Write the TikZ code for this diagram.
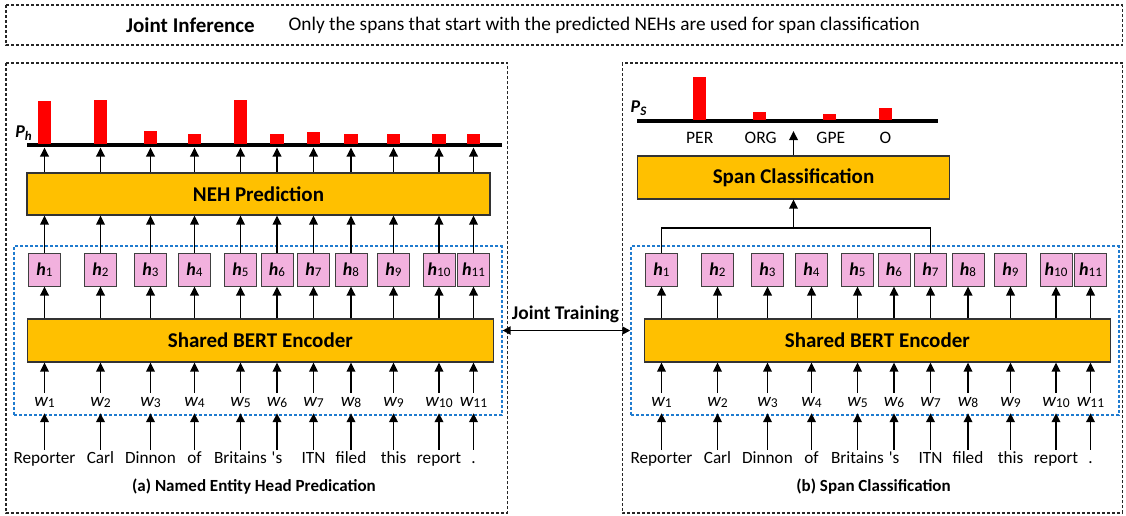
\documentclass[tikz,border=0pt]{standalone}
\usepackage{fontspec}
\setmainfont{Carlito}[Ligatures=TeXOff]
\usetikzlibrary{arrows.meta,calc}
\definecolor{orangeC}{HTML}{FFC000}
\definecolor{pinkC}{HTML}{F2B1DE}
\definecolor{blueC}{HTML}{1F7BCF}
\definecolor{barC}{HTML}{FF0000}
\newcommand{\fsz}[1]{\fontsize{#1}{#1}\selectfont}
\newcommand{\hlab}[1]{{\fsz{18}\bfseries\itshape h}\raisebox{-0.25ex}{\fsz{13}#1}}
\newcommand{\wlab}[1]{{\fsz{19}\itshape w}\raisebox{-0.4ex}{\fsz{13.5}#1}}
\tikzset{
  panelbox/.style={draw=black!85, line width=1.3pt, dash pattern=on 3pt off 2pt},
  bluebox/.style={draw=blueC, line width=1.6pt, dash pattern=on 3pt off 2pt, inner sep=0pt},
  orangebox/.style={draw=black!80, fill=orangeC, line width=1.2pt, inner sep=0pt, font=\fsz{21}\bfseries},
  hbox/.style={draw=black!75, fill=pinkC, line width=1pt, minimum width=32pt, minimum height=33pt, inner sep=0pt},
  wnode/.style={inner sep=0pt, text height=10pt, text depth=4pt, inner ysep=3pt},
  wordnode/.style={inner sep=0pt, text height=11.5pt, text depth=3.5pt, inner ysep=1.5pt, font=\fsz{17.2}},
  arr/.style={-{Triangle[length=9pt,width=8.5pt]}, line width=1.8pt},
  darr/.style={{Triangle[length=8pt,width=8pt]}-{Triangle[length=8pt,width=8pt]}, line width=1.8pt},
  axisline/.style={line width=3.2pt},
  caption/.style={font=\fsz{17}\bfseries, inner sep=0pt},
  clslabel/.style={font=\fsz{17.5}, inner sep=0pt},
}
\begin{document}
\begin{tikzpicture}[x=1pt,y=-1pt]
\useasboundingbox (0,0) rectangle (1126,515);
% top box
\draw[panelbox] (6,5) rectangle (1122.5,45);
\node[font=\fsz{21}\bfseries, inner sep=0pt] (ji) at (190.5,25) {Joint Inference};
\node[font=\fsz{19.3}, inner sep=0pt, anchor=west] (jitext) at (288.5,25) {Only the spans that start with the predicted NEHs are used for span classification};
% panels
\draw[panelbox] (6,63) rectangle (507.3,513);
\draw[panelbox] (622.3,63) rectangle (1122.5,513);
% panel contents
\foreach \p/\o in {L/0,R/617} {
  \node[bluebox, minimum width=487.7pt, minimum height=169pt] (blue\p) at (257.9+\o,330.5) {};
  \node[orangebox, minimum width=466pt, minimum height=43pt] (bert\p) at (260.3+\o,340.5) {Shared BERT Encoder};
  \foreach \i/\x/\word in {1/44.5/Reporter,2/100.5/Carl,3/150.5/Dinnon,4/194.5/of,5/240.5/Britains,6/277/'s,7/313.5/ITN,8/351/filed,9/393.5/this,10/439/report,11/473.5/.} {
    \node[hbox] (h\p\i) at (\x+\o,269.5) {\hlab{\i}};
    \node[wnode] (w\p\i) at (\x+\o,403) {\wlab{\i}};
    \node[wordnode] (word\p\i) at (\x+\o,459) {\word};
    \draw[arr] (bert\p.north -| h\p\i.south) -- (h\p\i.south);
    \draw[arr] (w\p\i.north) -- (w\p\i.north |- bert\p.south);
    \draw[arr] (word\p\i.north) -- (w\p\i.south);
  }
}
% left: NEH prediction
\node[orangebox, minimum width=463pt, minimum height=42pt] (neh) at (258.5,194) {NEH Prediction};
\coordinate (phL) at (0,147.5);
\draw[axisline] (27,145) -- (502,145);
\node[inner sep=0pt] (Ph) at (23.5,133) {\fsz{18}\bfseries\itshape P\raisebox{-0.3ex}{\fsz{13}h}};
\foreach \i/\t in {1/101,2/100,3/131,4/134,5/100,6/134,7/132,8/134,9/134,10/134,11/134} {
  \draw[arr] (hL\i.north) -- (hL\i.north |- neh.south);
  \draw[arr] (neh.north -| hL\i.north) -- (hL\i.north |- phL);
  \fill[barC] ($(hL\i.north |- 0,143.5) + (-6.7,0)$) rectangle ($(hL\i.north |- 0,\t) + (6.7,0)$);
}
% right: span classification
\node[orangebox, minimum width=312pt, minimum height=43pt] (span) at (793.5,177.5) {Span Classification};
\draw[line width=1.8pt] (hR1.north) -- (hR1.north |- 0,228) -| (hR7.north);
\draw[arr] (span.south |- 0,228) -- (span.south);
\draw[axisline] (637,121) -- (938,121);
\coordinate (psT) at (0,131);
\draw[arr] (span.north) -- (span.north |- psT);
\node[inner sep=0pt] (Ps) at (638.5,108) {\fsz{18}\bfseries\itshape P\raisebox{-0.3ex}{\fsz{13}S}};
\foreach \n/\x/\t/\lx/\lab in {per/699.3/77.3/699.7/PER,org/759.2/111.7/760.7/ORG,gpe/829.3/114.3/830.8/GPE,o/885.3/107.7/885.5/O} {
  \fill[barC] (\x-6.7,119.5) rectangle (\x+6.7,\t);
  \node[clslabel] (lab\n) at (\lx,138) {\lab};
}
% joint training
\draw[darr] (blueL.east) -- (blueR.west);
\node[font=\fsz{19.4}\bfseries, inner sep=0pt] (jt) at (565.5,314) {Joint Training};
% captions
\node[caption] (capa) at (254,487) {(a) Named Entity Head Predication};
\node[caption] (capb) at (873.5,487) {(b) Span Classification};
\end{tikzpicture}
\end{document}
